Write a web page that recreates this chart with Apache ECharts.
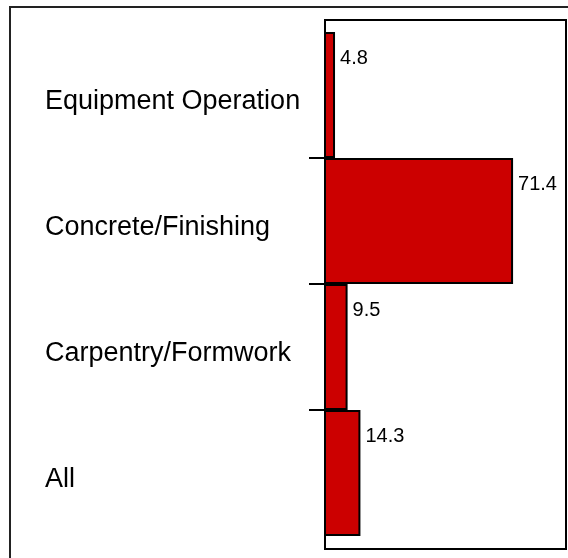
<!DOCTYPE html>
<html>
<head>
<meta charset="utf-8">
<script src="https://cdn.jsdelivr.net/npm/echarts@6/dist/echarts.min.js"></script>
<style>
  html, body { margin: 0; padding: 0; background: #fff; }
  #chart { width: 568px; height: 558px; }
</style>
</head>
<body>
<div id="chart"></div>
<script>
const categories = ['Equipment Operation', 'Concrete/Finishing', 'Carpentry/Formwork', 'All'];
const values = [4.8, 71.4, 9.5, 14.3];

const FONT = '"Liberation Sans", Arial, Helvetica, sans-serif';
const chart = echarts.init(document.getElementById('chart'), null, { renderer: 'canvas' });

const option = {
  animation: false,
  backgroundColor: '#ffffff',
  grid: [
    { left: 325, right: 2, top: 32, bottom: 22 },
    { left: 309, width: 16, top: 32, bottom: 22 }
  ],
  xAxis: [
    { gridIndex: 0, type: 'value', min: 1.05, max: 91.2, show: false, splitLine: { show: false } },
    { gridIndex: 1, type: 'value', min: 0, max: 1, show: false, splitLine: { show: false } }
  ],
  yAxis: [
    {
      gridIndex: 0, type: 'category', data: categories, inverse: true,
      axisLine: { show: false }, axisTick: { show: false }, splitLine: { show: false },
      axisLabel: {
        align: 'left', margin: 280, fontSize: 27, color: '#000', fontFamily: FONT,
        verticalAlign: 'top', lineHeight: 14
      }
    },
    {
      gridIndex: 1, type: 'category', data: categories, inverse: true,
      axisLine: { show: false }, axisTick: { show: false }, axisLabel: { show: false },
      splitLine: { show: true, showMinLine: false, showMaxLine: false, lineStyle: { color: '#000', width: 2 } }
    }
  ],
  series: [
    {
      type: 'bar', xAxisIndex: 0, yAxisIndex: 0, data: values,
      barWidth: '100%', barCategoryGap: 0, clip: true,
      itemStyle: { color: '#cc0000', borderColor: '#000', borderWidth: 2 },
      label: {
        show: true, position: ['100%', 26], offset: [5, 0],
        align: 'left', verticalAlign: 'middle',
        fontSize: 20, color: '#000', fontFamily: FONT
      }
    }
  ],
  graphic: [
    {
      type: 'rect', z: 100, silent: true,
      shape: { x: 325, y: 20, width: 241, height: 529 },
      style: { fill: null, stroke: '#000', lineWidth: 2 }
    },
    {
      type: 'rect', z: 100, silent: true,
      shape: { x: 10, y: 7, width: 580, height: 580 },
      style: { fill: null, stroke: '#222', lineWidth: 2 }
    }
  ]
};
chart.setOption(option);
</script>
</body>
</html>
